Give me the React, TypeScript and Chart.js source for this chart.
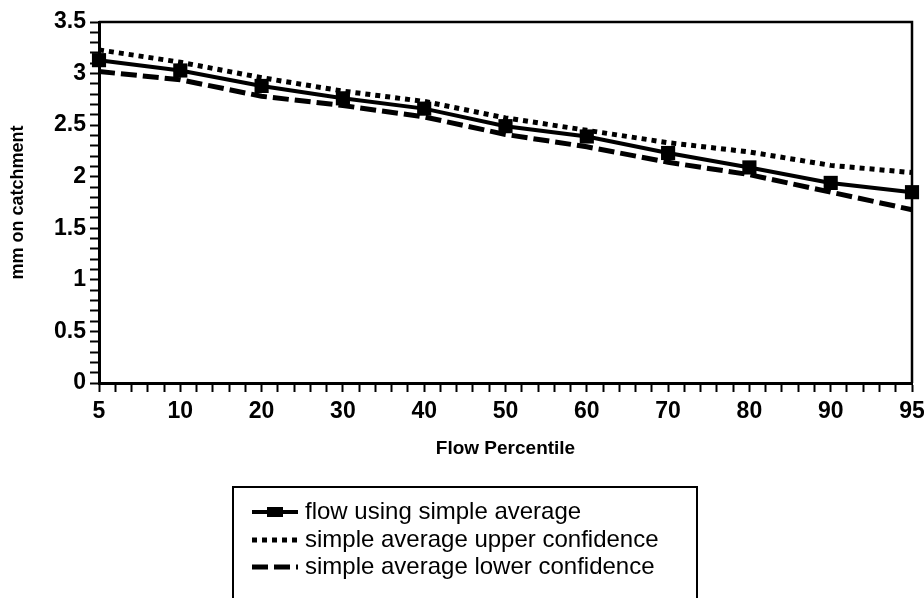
import React, { useEffect, useRef } from 'react';
import { Chart, registerables } from 'chart.js';

Chart.register(...registerables);

// ---- Data ----
const categories = ['5', '10', '20', '30', '40', '50', '60', '70', '80', '90', '95'];
const simpleAverage = [3.13, 3.03, 2.88, 2.76, 2.66, 2.49, 2.39, 2.23, 2.09, 1.94, 1.85];
const upperConfidence = [3.23, 3.11, 2.96, 2.83, 2.73, 2.57, 2.45, 2.33, 2.24, 2.11, 2.04];
const lowerConfidence = [3.02, 2.94, 2.78, 2.69, 2.58, 2.41, 2.29, 2.14, 2.02, 1.85, 1.68];
const yTickLabels = ['0', '0.5', '1', '1.5', '2', '2.5', '3', '3.5'];
const seriesLabels = [
  'flow using simple average',
  'simple average upper confidence',
  'simple average lower confidence',
];
const xTitle = 'Flow Percentile';
const yTitle = 'mm on catchment';

const FONT = "'Liberation Sans', Arial, Helvetica, sans-serif";

const toPoints = (vals: number[]) => vals.map((v, i) => ({ x: i, y: v }));

const frameAndLegend = {
  id: 'frameAndLegend',
  afterDatasetsDraw(chart: any) {
    const { ctx, chartArea } = chart;
    ctx.save();
    ctx.strokeStyle = '#000';
    ctx.lineWidth = 2.5;
    ctx.beginPath();
    ctx.moveTo(chartArea.left, chartArea.top);
    ctx.lineTo(chartArea.right, chartArea.top);
    ctx.lineTo(chartArea.right, chartArea.bottom);
    ctx.stroke();
    ctx.restore();
  },
  afterDraw(chart: any) {
    const { ctx } = chart;
    ctx.save();
    // legend box
    ctx.strokeStyle = '#000';
    ctx.lineWidth = 2;
    ctx.strokeRect(233, 487, 464, 130);
    const rows = [512, 540, 567];
    chart.data.datasets.forEach((ds: any, i: number) => {
      const y = rows[i];
      ctx.save();
      ctx.strokeStyle = '#000';
      ctx.lineWidth = ds.borderWidth;
      ctx.setLineDash(ds.borderDash || []);
      ctx.lineCap = 'butt';
      ctx.beginPath();
      ctx.moveTo(252, y);
      ctx.lineTo(298, y);
      ctx.stroke();
      ctx.setLineDash([]);
      if (ds.pointRadius > 0) {
        ctx.fillStyle = '#000';
        ctx.fillRect(267, y - 5, 16, 10);
      }
      ctx.restore();
      ctx.fillStyle = '#000';
      ctx.font = `24px ${FONT}`;
      ctx.textBaseline = 'middle';
      ctx.textAlign = 'left';
      ctx.fillText(ds.label, 305, y);
    });
    ctx.restore();
  },
};

export default function App() {
  const ref = useRef<HTMLCanvasElement>(null);

  useEffect(() => {
    if (!ref.current) return;
    const chart = new Chart(ref.current, {
      type: 'line',
      data: {
        datasets: [
          {
            label: seriesLabels[0],
            data: toPoints(simpleAverage),
            borderColor: '#000',
            backgroundColor: '#000',
            borderWidth: 4,
            pointStyle: 'rect',
            pointRadius: 10,
            pointBorderWidth: 0,
            tension: 0,
            clip: false,
          } as any,
          {
            label: seriesLabels[1],
            data: toPoints(upperConfidence),
            borderColor: '#000',
            borderWidth: 5,
            borderDash: [5, 5],
            pointRadius: 0,
            tension: 0,
            clip: false,
          } as any,
          {
            label: seriesLabels[2],
            data: toPoints(lowerConfidence),
            borderColor: '#000',
            borderWidth: 5,
            borderDash: [16, 6],
            pointRadius: 0,
            tension: 0,
            clip: false,
          } as any,
        ],
      },
      options: {
        animation: false,
        responsive: true,
        maintainAspectRatio: false,
        layout: { padding: { left: 0, top: 22, right: 12, bottom: 138 } },
        plugins: {
          legend: { display: false },
          tooltip: { enabled: false },
        },
        scales: {
          x: {
            type: 'linear',
            min: 0,
            max: categories.length - 1,
            afterFit: (s: any) => {
              s.height = 77;
              s.paddingLeft = 0;
              s.paddingRight = 0;
            },
            border: { display: true, color: '#000', width: 3 },
            grid: {
              display: true,
              drawOnChartArea: false,
              drawTicks: true,
              tickLength: 9,
              tickWidth: 2,
              tickColor: '#000',
            },
            ticks: {
              stepSize: 0.2,
              autoSkip: false,
              maxRotation: 0,
              minRotation: 0,
              padding: 6,
              color: '#000',
              font: { family: FONT, size: 23, weight: 'bold' },
              callback: (v: any) => {
                const n = Number(v);
                const r = Math.round(n);
                return Math.abs(n - r) < 1e-6 ? categories[r] : '';
              },
            },
            title: {
              display: true,
              text: xTitle,
              color: '#000',
              font: { family: FONT, size: 19, weight: 'bold' },
              padding: { top: 0, bottom: 0 },
            },
          },
          y: {
            type: 'linear',
            min: 0,
            max: 3.5,
            afterFit: (s: any) => {
              s.width = 99;
              s.paddingTop = 0;
              s.paddingBottom = 0;
            },
            border: { display: true, color: '#000', width: 3 },
            grid: {
              display: true,
              drawOnChartArea: false,
              drawTicks: true,
              tickLength: 9,
              tickWidth: 2,
              tickColor: '#000',
            },
            ticks: {
              stepSize: 0.1,
              autoSkip: false,
              padding: 4,
              color: '#000',
              font: { family: FONT, size: 23, weight: 'bold' },
              callback: (v: any) => {
                const n = Number(v) * 2;
                const r = Math.round(n);
                return Math.abs(n - r) < 1e-6 ? yTickLabels[r] : '';
              },
            },
            title: {
              display: true,
              text: yTitle,
              color: '#000',
              font: { family: FONT, size: 18, weight: 'bold' },
              padding: { top: 7, bottom: 0 },
            },
          },
        },
      } as any,
      plugins: [frameAndLegend],
    });
    return () => chart.destroy();
  }, []);

  return (
    <div style={{ position: 'absolute', left: 0, top: 0, width: 924, height: 598, background: '#fff' }}>
      <canvas ref={ref} />
    </div>
  );
}
